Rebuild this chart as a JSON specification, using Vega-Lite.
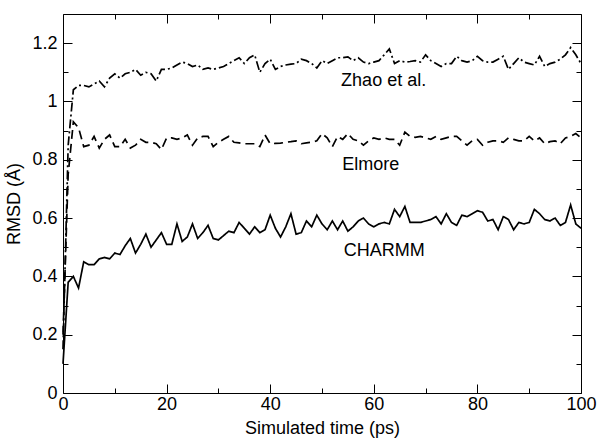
{
  "$schema": "https://vega.github.io/schema/vega-lite/v6.json",
  "width": 518,
  "height": 379,
  "autosize": {"type": "none"},
  "padding": {"left": 63, "top": 14, "right": 20, "bottom": 49},
  "background": "white",
  "config": {
    "view": {"stroke": null},
    "font": "Liberation Sans",
    "axis": {
      "grid": false,
      "domainColor": "black",
      "domainWidth": 1,
      "tickColor": "black",
      "tickWidth": 1,
      "labelColor": "black",
      "titleColor": "black",
      "labelFont": "Liberation Sans",
      "titleFont": "Liberation Sans",
      "labelFontSize": 18,
      "titleFontSize": 18,
      "titleFontWeight": "normal",
      "labelFlush": false,
      "labelOverlap": false
    }
  },
  "datasets": {
    "series": [
      {"t":0,"CHARMM":0.10,"Elmore":0.20,"Zhao":0.15},
      {"t":1,"CHARMM":0.38,"Elmore":0.75,"Zhao":0.85},
      {"t":2,"CHARMM":0.40,"Elmore":0.93,"Zhao":1.04},
      {"t":3,"CHARMM":0.36,"Elmore":0.91,"Zhao":1.055},
      {"t":4,"CHARMM":0.45,"Elmore":0.845,"Zhao":1.055},
      {"t":5,"CHARMM":0.44,"Elmore":0.85,"Zhao":1.05},
      {"t":6,"CHARMM":0.44,"Elmore":0.88,"Zhao":1.06},
      {"t":7,"CHARMM":0.46,"Elmore":0.84,"Zhao":1.07},
      {"t":8,"CHARMM":0.465,"Elmore":0.87,"Zhao":1.05},
      {"t":9,"CHARMM":0.46,"Elmore":0.885,"Zhao":1.08},
      {"t":10,"CHARMM":0.48,"Elmore":0.845,"Zhao":1.095},
      {"t":11,"CHARMM":0.475,"Elmore":0.845,"Zhao":1.08},
      {"t":12,"CHARMM":0.505,"Elmore":0.87,"Zhao":1.095},
      {"t":13,"CHARMM":0.53,"Elmore":0.84,"Zhao":1.10},
      {"t":14,"CHARMM":0.48,"Elmore":0.85,"Zhao":1.11},
      {"t":15,"CHARMM":0.51,"Elmore":0.87,"Zhao":1.09},
      {"t":16,"CHARMM":0.545,"Elmore":0.86,"Zhao":1.10},
      {"t":17,"CHARMM":0.50,"Elmore":0.86,"Zhao":1.095},
      {"t":18,"CHARMM":0.525,"Elmore":0.855,"Zhao":1.07},
      {"t":19,"CHARMM":0.55,"Elmore":0.835,"Zhao":1.11},
      {"t":20,"CHARMM":0.51,"Elmore":0.875,"Zhao":1.11},
      {"t":21,"CHARMM":0.51,"Elmore":0.875,"Zhao":1.115},
      {"t":22,"CHARMM":0.58,"Elmore":0.87,"Zhao":1.125},
      {"t":23,"CHARMM":0.52,"Elmore":0.875,"Zhao":1.135},
      {"t":24,"CHARMM":0.535,"Elmore":0.885,"Zhao":1.13},
      {"t":25,"CHARMM":0.58,"Elmore":0.85,"Zhao":1.12},
      {"t":26,"CHARMM":0.53,"Elmore":0.875,"Zhao":1.125},
      {"t":27,"CHARMM":0.55,"Elmore":0.88,"Zhao":1.11},
      {"t":28,"CHARMM":0.575,"Elmore":0.88,"Zhao":1.115},
      {"t":29,"CHARMM":0.53,"Elmore":0.845,"Zhao":1.11},
      {"t":30,"CHARMM":0.525,"Elmore":0.86,"Zhao":1.115},
      {"t":31,"CHARMM":0.54,"Elmore":0.87,"Zhao":1.12},
      {"t":32,"CHARMM":0.555,"Elmore":0.88,"Zhao":1.13},
      {"t":33,"CHARMM":0.55,"Elmore":0.86,"Zhao":1.14},
      {"t":34,"CHARMM":0.585,"Elmore":0.858,"Zhao":1.15},
      {"t":35,"CHARMM":0.565,"Elmore":0.855,"Zhao":1.13},
      {"t":36,"CHARMM":0.545,"Elmore":0.855,"Zhao":1.15},
      {"t":37,"CHARMM":0.57,"Elmore":0.855,"Zhao":1.16},
      {"t":38,"CHARMM":0.55,"Elmore":0.845,"Zhao":1.10},
      {"t":39,"CHARMM":0.56,"Elmore":0.885,"Zhao":1.13},
      {"t":40,"CHARMM":0.61,"Elmore":0.855,"Zhao":1.145},
      {"t":41,"CHARMM":0.565,"Elmore":0.856,"Zhao":1.11},
      {"t":42,"CHARMM":0.535,"Elmore":0.857,"Zhao":1.12},
      {"t":43,"CHARMM":0.57,"Elmore":0.86,"Zhao":1.125},
      {"t":44,"CHARMM":0.615,"Elmore":0.862,"Zhao":1.128},
      {"t":45,"CHARMM":0.545,"Elmore":0.865,"Zhao":1.13},
      {"t":46,"CHARMM":0.55,"Elmore":0.855,"Zhao":1.145},
      {"t":47,"CHARMM":0.59,"Elmore":0.858,"Zhao":1.14},
      {"t":48,"CHARMM":0.57,"Elmore":0.86,"Zhao":1.13},
      {"t":49,"CHARMM":0.61,"Elmore":0.865,"Zhao":1.115},
      {"t":50,"CHARMM":0.58,"Elmore":0.89,"Zhao":1.14},
      {"t":51,"CHARMM":0.56,"Elmore":0.875,"Zhao":1.13},
      {"t":52,"CHARMM":0.59,"Elmore":0.845,"Zhao":1.14},
      {"t":53,"CHARMM":0.56,"Elmore":0.88,"Zhao":1.15},
      {"t":54,"CHARMM":0.59,"Elmore":0.87,"Zhao":1.15},
      {"t":55,"CHARMM":0.555,"Elmore":0.89,"Zhao":1.153},
      {"t":56,"CHARMM":0.57,"Elmore":0.87,"Zhao":1.14},
      {"t":57,"CHARMM":0.59,"Elmore":0.865,"Zhao":1.15},
      {"t":58,"CHARMM":0.60,"Elmore":0.85,"Zhao":1.135},
      {"t":59,"CHARMM":0.58,"Elmore":0.865,"Zhao":1.13},
      {"t":60,"CHARMM":0.57,"Elmore":0.875,"Zhao":1.135},
      {"t":61,"CHARMM":0.58,"Elmore":0.87,"Zhao":1.14},
      {"t":62,"CHARMM":0.585,"Elmore":0.875,"Zhao":1.16},
      {"t":63,"CHARMM":0.58,"Elmore":0.87,"Zhao":1.18},
      {"t":64,"CHARMM":0.63,"Elmore":0.87,"Zhao":1.13},
      {"t":65,"CHARMM":0.605,"Elmore":0.85,"Zhao":1.14},
      {"t":66,"CHARMM":0.64,"Elmore":0.895,"Zhao":1.135},
      {"t":67,"CHARMM":0.585,"Elmore":0.88,"Zhao":1.137},
      {"t":68,"CHARMM":0.585,"Elmore":0.877,"Zhao":1.14},
      {"t":69,"CHARMM":0.585,"Elmore":0.88,"Zhao":1.135},
      {"t":70,"CHARMM":0.59,"Elmore":0.875,"Zhao":1.16},
      {"t":71,"CHARMM":0.595,"Elmore":0.87,"Zhao":1.14},
      {"t":72,"CHARMM":0.605,"Elmore":0.88,"Zhao":1.13},
      {"t":73,"CHARMM":0.58,"Elmore":0.87,"Zhao":1.12},
      {"t":74,"CHARMM":0.615,"Elmore":0.875,"Zhao":1.13},
      {"t":75,"CHARMM":0.585,"Elmore":0.88,"Zhao":1.13},
      {"t":76,"CHARMM":0.575,"Elmore":0.88,"Zhao":1.155},
      {"t":77,"CHARMM":0.61,"Elmore":0.865,"Zhao":1.14},
      {"t":78,"CHARMM":0.605,"Elmore":0.85,"Zhao":1.135},
      {"t":79,"CHARMM":0.615,"Elmore":0.865,"Zhao":1.14},
      {"t":80,"CHARMM":0.625,"Elmore":0.87,"Zhao":1.155},
      {"t":81,"CHARMM":0.62,"Elmore":0.85,"Zhao":1.14},
      {"t":82,"CHARMM":0.59,"Elmore":0.86,"Zhao":1.135},
      {"t":83,"CHARMM":0.595,"Elmore":0.865,"Zhao":1.135},
      {"t":84,"CHARMM":0.56,"Elmore":0.865,"Zhao":1.145},
      {"t":85,"CHARMM":0.605,"Elmore":0.86,"Zhao":1.155},
      {"t":86,"CHARMM":0.595,"Elmore":0.875,"Zhao":1.11},
      {"t":87,"CHARMM":0.56,"Elmore":0.87,"Zhao":1.13},
      {"t":88,"CHARMM":0.585,"Elmore":0.865,"Zhao":1.15},
      {"t":89,"CHARMM":0.58,"Elmore":0.865,"Zhao":1.135},
      {"t":90,"CHARMM":0.585,"Elmore":0.88,"Zhao":1.13},
      {"t":91,"CHARMM":0.63,"Elmore":0.865,"Zhao":1.125},
      {"t":92,"CHARMM":0.615,"Elmore":0.875,"Zhao":1.155},
      {"t":93,"CHARMM":0.595,"Elmore":0.855,"Zhao":1.12},
      {"t":94,"CHARMM":0.59,"Elmore":0.862,"Zhao":1.13},
      {"t":95,"CHARMM":0.60,"Elmore":0.865,"Zhao":1.135},
      {"t":96,"CHARMM":0.575,"Elmore":0.855,"Zhao":1.145},
      {"t":97,"CHARMM":0.585,"Elmore":0.875,"Zhao":1.16},
      {"t":98,"CHARMM":0.645,"Elmore":0.88,"Zhao":1.185},
      {"t":99,"CHARMM":0.58,"Elmore":0.89,"Zhao":1.16},
      {"t":100,"CHARMM":0.565,"Elmore":0.875,"Zhao":1.13}
    ],
    "labels": [
      {"label":"Zhao et al.","t":61.9,"v":1.071},
      {"label":"Elmore","t":59.4,"v":0.782},
      {"label":"CHARMM","t":62,"v":0.488}
    ]
  },
  "layer": [
    {
      "data": {"name": "series"},
      "transform": [{"fold": ["CHARMM","Elmore","Zhao"], "as": ["model","rmsd"]}],
      "mark": {"type": "line", "color": "black", "strokeWidth": 1.7},
      "encoding": {
        "x": {
          "field": "t", "type": "quantitative",
          "scale": {"domain": [0,100], "nice": false},
          "axis": {
            "orient": "bottom",
            "title": "Simulated time (ps)",
            "values": [0,10,20,30,40,50,60,70,80,90,100],
            "labelExpr": "datum.value % 20 == 0 ? datum.label : ''",
            "tickSize": {"condition": {"test": "datum.value % 20 != 0", "value": -5}, "value": -9},
            "labelPadding": 11,
            "titlePadding": 2
          }
        },
        "y": {
          "field": "rmsd", "type": "quantitative",
          "scale": {"domain": [0,1.3], "nice": false},
          "axis": {
            "orient": "left",
            "title": "RMSD (Å)",
            "values": [0,0.1,0.2,0.3,0.4,0.5,0.6,0.7,0.8,0.9,1,1.1,1.2],
            "format": "~g",
            "labelExpr": "abs(datum.value*5 - round(datum.value*5)) < 0.01 ? datum.label : ''",
            "tickSize": {"condition": {"test": "abs(datum.value*5 - round(datum.value*5)) > 0.01", "value": -5}, "value": -9},
            "labelPadding": 15,
            "titlePadding": 8
          }
        },
        "strokeDash": {
          "field": "model", "type": "nominal",
          "scale": {"domain": ["CHARMM","Elmore","Zhao"], "range": [[1,0],[9,5],[9,3,2,3]]},
          "legend": null
        }
      }
    },
    {
      "data": {"name": "labels"},
      "mark": {"type": "text", "fontSize": 18, "color": "black", "font": "Liberation Sans", "baseline": "middle", "align": "center"},
      "encoding": {
        "x": {
          "field": "t", "type": "quantitative",
          "scale": {"domain": [0,100], "nice": false},
          "axis": {
            "orient": "top", "title": null, "labels": false,
            "values": [0,10,20,30,40,50,60,70,80,90,100],
            "tickSize": {"condition": {"test": "datum.value % 20 != 0", "value": -5}, "value": -9}
          }
        },
        "y": {
          "field": "v", "type": "quantitative",
          "scale": {"domain": [0,1.3], "nice": false},
          "axis": {
            "orient": "right", "title": null, "labels": false,
            "values": [0,0.1,0.2,0.3,0.4,0.5,0.6,0.7,0.8,0.9,1,1.1,1.2],
            "tickSize": {"condition": {"test": "abs(datum.value*5 - round(datum.value*5)) > 0.01", "value": -5}, "value": -9}
          }
        },
        "text": {"field": "label"}
      }
    }
  ],
  "resolve": {"axis": {"x": "independent", "y": "independent"}}
}
